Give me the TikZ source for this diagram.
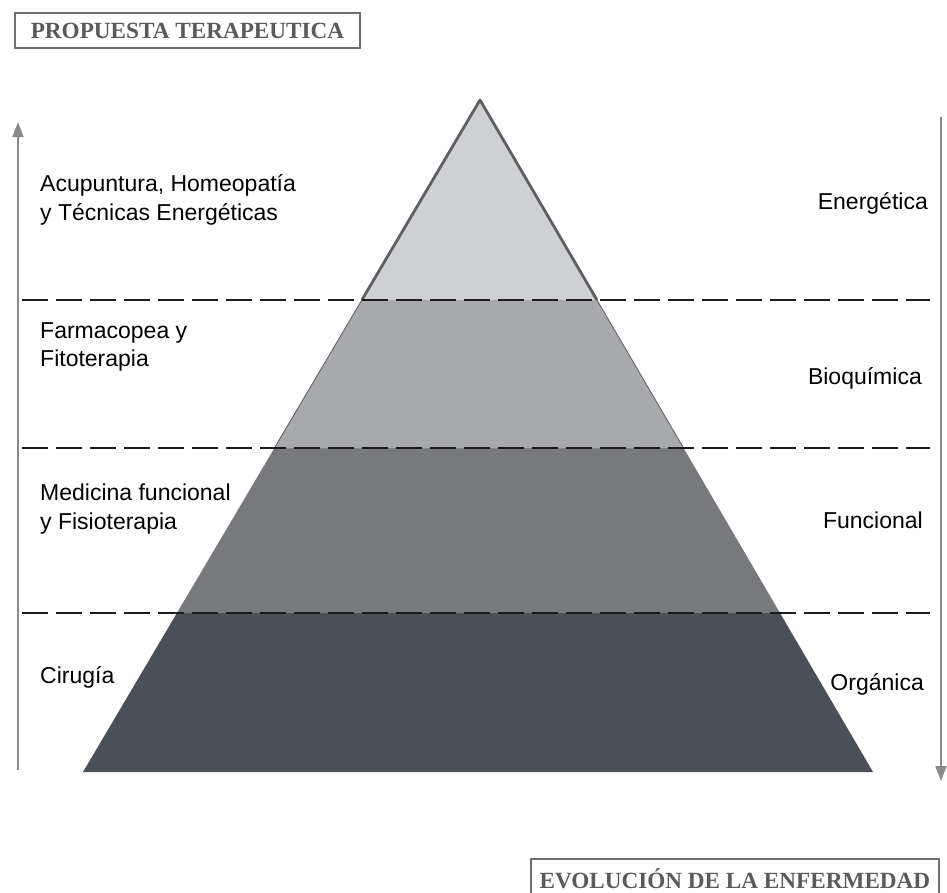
\documentclass[tikz,border=0pt]{standalone}
\usepackage{fontspec}
\setmainfont{Liberation Serif}
\newfontfamily\labelfont{Liberation Sans}
\usetikzlibrary{calc,arrows.meta}
\definecolor{tierA}{HTML}{CFD0D3}
\definecolor{tierB}{HTML}{A8A9AC}
\definecolor{tierC}{HTML}{78797D}
\definecolor{tierD}{HTML}{4B5056}
\definecolor{edgegray}{HTML}{5E5F62}
\definecolor{axisgray}{HTML}{8A8A8A}
\definecolor{titlegray}{HTML}{5A5A5A}
\definecolor{boxgray}{HTML}{707070}
\definecolor{dashcol}{HTML}{1C1C1C}
\tikzset{
  titlebox/.style={draw=boxgray, line width=1.8pt, text=titlegray, inner sep=0pt,
    font=\fontsize{23.2}{26}\selectfont\bfseries},
  lefttext/.style={anchor=west, align=left, inner sep=0pt, text=black,
    font=\labelfont\fontsize{23}{28.5}\selectfont},
  righttext/.style={anchor=east, align=right, inner sep=0pt, text=black,
    font=\labelfont\fontsize{23}{28.5}\selectfont},
  dashline/.style={draw=dashcol, line width=2.8pt, dash pattern=on 26pt off 8pt},
  axisline/.style={draw=axisgray, line width=1.8pt,
    -{Triangle[length=15pt,width=11pt]}},
  topedge/.style={draw=edgegray, line width=2.8pt, line join=round},
}
\begin{document}
\begin{tikzpicture}[x=1pt,y=-1pt]
\useasboundingbox (0,0) rectangle (947,892);
% pyramid corners
\coordinate (A) at (480,100);
\coordinate (BL) at (83,772);
\coordinate (BR) at (873,772);
\coordinate (L1) at ($(A)!0.2976!(BL)$);
\coordinate (R1) at ($(A)!0.2976!(BR)$);
\coordinate (L2) at ($(A)!0.5179!(BL)$);
\coordinate (R2) at ($(A)!0.5179!(BR)$);
\coordinate (L3) at ($(A)!0.7634!(BL)$);
\coordinate (R3) at ($(A)!0.7634!(BR)$);
% tiers
\fill[tierD] (L3) -- (BL) -- (BR) -- (R3) -- cycle;
\fill[tierC] (L2) -- (L3) -- (R3) -- (R2) -- cycle;
\draw[tierB, fill=tierB] (L1) -- (L2) -- (R2) -- (R1) -- cycle;
\draw[edgegray, line width=0.8pt] (L1) -- (L2) (R1) -- (R2);
\fill[tierA] (A) -- (L1) -- (R1) -- cycle;
\draw[topedge] (L1) -- (A) -- (R1);
% dashed separators
\coordinate (D1l) at (22,300);  \coordinate (D1r) at (930,300);
\coordinate (D2l) at (22,448);  \coordinate (D2r) at (930,448);
\coordinate (D3l) at (22,613);  \coordinate (D3r) at (930,613);
\draw[dashline] (D1l) -- (D1r);
\draw[dashline] (D2l) -- (D2r);
\draw[dashline] (D3l) -- (D3r);
% axes
\coordinate (UpS) at (18,770);  \coordinate (UpE) at (18,122);
\coordinate (DnS) at (941,117); \coordinate (DnE) at (941,781);
\draw[axisline] (UpS) -- (UpE);
\draw[axisline] (DnS) -- (DnE);
% title boxes
\node[titlebox, minimum width=345pt, minimum height=35pt] (tt) at (187.5,30.5) {PROPUESTA TERAPEUTICA};
\node[titlebox, anchor=north west, minimum width=408pt, minimum height=40pt] (tb) at (530,858) {EVOLUCIÓN DE LA ENFERMEDAD};
% left labels
\node[lefttext] (l1) at (40,200) {Acupuntura, Homeopatía\\y Técnicas Energéticas};
\node[lefttext] (l2) at (40,347) {Farmacopea y\\Fitoterapia};
\node[lefttext] (l3) at (40,509) {Medicina funcional\\y Fisioterapia};
\node[lefttext] (l4) at (40,677) {Cirugía};
% right labels
\node[righttext] (r1) at (928,203) {Energética};
\node[righttext] (r2) at (922,378) {Bioquímica};
\node[righttext] (r3) at (923,520) {Funcional};
\node[righttext] (r4) at (924,684) {Orgánica};
\end{tikzpicture}
\end{document}
